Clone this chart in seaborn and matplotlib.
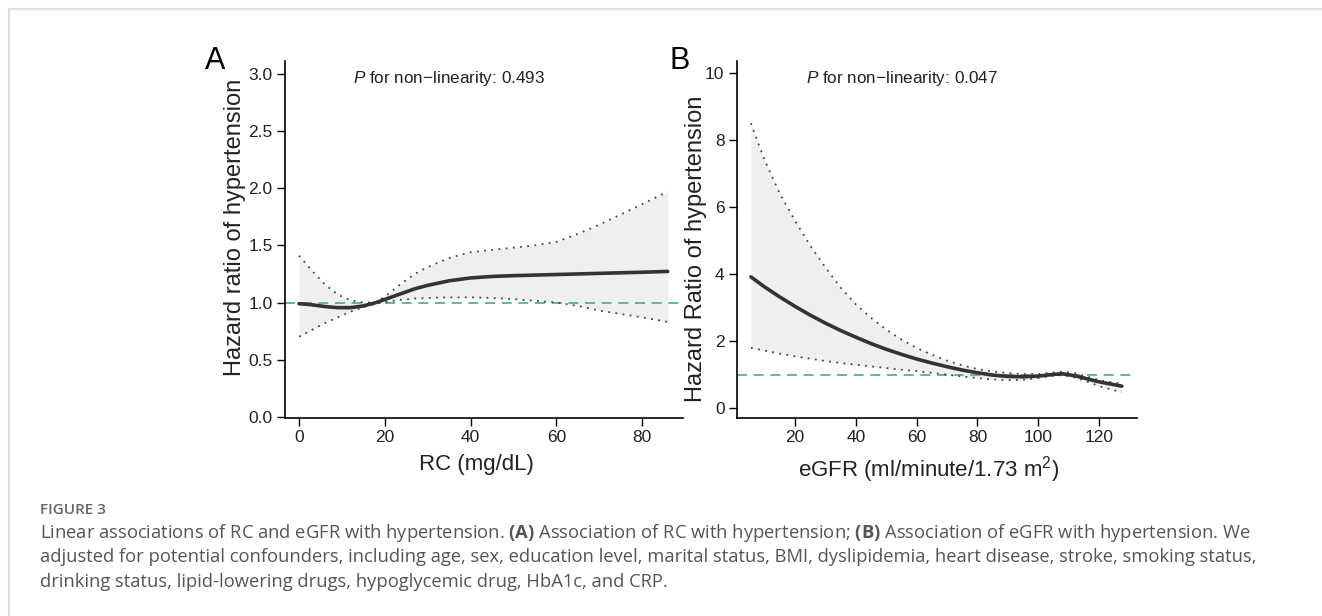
import matplotlib
matplotlib.use("Agg")
import matplotlib.pyplot as plt
import matplotlib.lines as mlines
import seaborn as sns
import pandas as pd

# panel A: RC (mg/dL)
rc_x = [0, 3, 6, 9, 12, 15, 18, 21, 24, 27, 30, 35, 40, 45, 50, 55, 60, 65, 70, 75, 80, 86]
rc_hr = [0.99, 0.98, 0.965, 0.955, 0.955, 0.97, 1.0, 1.04, 1.08, 1.12, 1.15, 1.19, 1.215,
         1.228, 1.235, 1.24, 1.245, 1.25, 1.255, 1.26, 1.265, 1.272]
rc_upper = [1.41, 1.28, 1.16, 1.07, 1.02, 1.0, 1.0, 1.08, 1.17, 1.25, 1.31, 1.39, 1.44,
            1.46, 1.48, 1.5, 1.53, 1.6, 1.68, 1.77, 1.86, 1.97]
rc_lower = [0.70, 0.76, 0.82, 0.87, 0.92, 0.96, 0.99, 1.01, 1.025, 1.035, 1.04, 1.045, 1.045,
            1.04, 1.03, 1.015, 1.0, 0.97, 0.93, 0.9, 0.87, 0.83]

# panel B: eGFR
egfr_x = [5.5, 10, 15, 20, 25, 30, 35, 40, 45, 50, 55, 60, 65, 70, 75, 80, 85, 90, 95, 100,
          105, 108, 112, 116, 120, 124, 127.5]
egfr_hr = [3.92, 3.62, 3.32, 3.04, 2.78, 2.54, 2.32, 2.12, 1.93, 1.76, 1.61, 1.47, 1.35, 1.24,
           1.14, 1.06, 0.99, 0.95, 0.94, 0.96, 1.01, 1.03, 0.97, 0.88, 0.79, 0.72, 0.66]
egfr_upper = [8.5, 7.4, 6.4, 5.6, 4.85, 4.2, 3.6, 3.1, 2.7, 2.35, 2.05, 1.8, 1.6, 1.42, 1.28,
              1.17, 1.1, 1.05, 1.02, 1.02, 1.07, 1.09, 1.05, 0.95, 0.84, 0.78, 0.73]
egfr_lower = [1.8, 1.72, 1.63, 1.55, 1.48, 1.41, 1.35, 1.3, 1.25, 1.2, 1.15, 1.11, 1.06, 1.0,
              0.95, 0.9, 0.86, 0.84, 0.85, 0.9, 0.97, 0.99, 0.92, 0.8, 0.66, 0.56, 0.48]

rc_ticks = [0, 20, 40, 60, 80]
rc_yticks = [0.0, 0.5, 1.0, 1.5, 2.0, 2.5, 3.0]
egfr_ticks = [20, 40, 60, 80, 100, 120]
egfr_yticks = [0, 2, 4, 6, 8, 10]

sns.set_theme(style="ticks")
plt.rcParams['font.family'] = ['Liberation Sans', 'DejaVu Sans']
plt.rcParams['mathtext.fontset'] = 'custom'
plt.rcParams['mathtext.bf'] = 'Open Sans:bold'
plt.rcParams['mathtext.it'] = 'Liberation Sans:italic'
plt.rcParams['mathtext.rm'] = 'Liberation Sans'

fig = plt.figure(figsize=(13.22, 6.16), dpi=100)
W, H = 1322, 616


def px_axes(left, top, right, bottom):
    return fig.add_axes([left / W, 1 - bottom / H, (right - left) / W, (bottom - top) / H])


def draw_panel(ax, x, hr, lo, up):
    df = pd.DataFrame({"x": x, "hr": hr, "lo": lo, "up": up})
    ax.fill_between(df["x"], df["lo"], df["up"], color="#efefef", lw=0, zorder=1)
    sns.lineplot(data=df, x="x", y="up", ax=ax, color="#444444", lw=1.3,
                 linestyle=(0, (1, 3)), zorder=3)
    sns.lineplot(data=df, x="x", y="lo", ax=ax, color="#444444", lw=1.3,
                 linestyle=(0, (1, 3)), zorder=3)
    ax.axhline(1, color="#3fa7a3", lw=1.2, linestyle=(0, (6, 4)), zorder=2)
    sns.lineplot(data=df, x="x", y="hr", ax=ax, color="#333333", lw=2.6, zorder=4)
    sns.despine(ax=ax)
    for s in ["left", "bottom"]:
        ax.spines[s].set_linewidth(1.2)
        ax.spines[s].set_color("black")
    ax.tick_params(axis="both", length=6, width=1, color="black", labelsize=12.5,
                   labelcolor="#222222", pad=3)


axA = px_axes(285, 61, 683, 418)
draw_panel(axA, rc_x, rc_hr, rc_lower, rc_upper)
axA.set_xlim(-3.27, 89.56)
axA.set_ylim(-0.011, 3.114)
axA.set_xticks(rc_ticks)
axA.set_yticks(rc_yticks)
axA.set_yticklabels([f"{v:.1f}" for v in rc_yticks])
axA.set_xlabel("RC (mg/dL)", fontsize=16, color="#222222")
axA.set_ylabel("Hazard ratio of hypertension", fontsize=17, color="#222222")
axA.yaxis.set_label_coords(-0.098, 0.534)
axA.xaxis.set_label_coords(0.48, -0.1)
fig.text(353 / W, 1 - 78 / H, r"$\it{P}$ for non$-$linearity: 0.493", fontsize=12.3,
         va="center", ha="left", color="#222222")
fig.text(215 / W, 1 - 61 / H, "A", fontsize=22, ha="center", va="center", color="black")

axB = px_axes(737, 61, 1137, 418)
draw_panel(axB, egfr_x, egfr_hr, egfr_lower, egfr_upper)
axB.set_xlim(0.92, 132.5)
axB.set_ylim(-0.29, 10.36)
axB.set_xticks(egfr_ticks)
axB.set_yticks(egfr_yticks)
axB.set_xlabel("eGFR (ml/minute/1.73 m$^2$)", fontsize=16, color="#222222")
axB.set_ylabel("Hazard Ratio of hypertension", fontsize=17, color="#222222")
axB.yaxis.set_label_coords(-0.074, 0.473)
axB.xaxis.set_label_coords(0.48, -0.1)
fig.text(806 / W, 1 - 78 / H, r"$\it{P}$ for non$-$linearity: 0.047", fontsize=12.3,
         va="center", ha="left", color="#222222")
fig.text(680 / W, 1 - 61 / H, "B", fontsize=22, ha="center", va="center", color="black")

# page frame lines
fig.add_artist(mlines.Line2D([9 / W, 1], [1 - 9 / H, 1 - 9 / H], color="#dddddd", lw=1.5))
fig.add_artist(mlines.Line2D([9 / W, 9 / W], [0, 1 - 9 / H], color="#dddddd", lw=1.5))

# caption
cap_font = ['Open Sans', 'DejaVu Sans']
fig.text(40 / W, 1 - 510 / H, "FIGURE 3", fontsize=11, fontweight="semibold",
         color="#666666", va="center", family=cap_font)
line1 = (r"Linear associations of RC and eGFR with hypertension. $\bf{(A)}$ Association of RC "
         r"with hypertension; $\bf{(B)}$ Association of eGFR with hypertension. We")
lines = [
    line1,
    "adjusted for potential confounders, including age, sex, education level, marital status, "
    "BMI, dyslipidemia, heart disease, stroke, smoking status,",
    "drinking status, lipid-lowering drugs, hypoglycemic drug, HbA1c, and CRP.",
]
for i, t in enumerate(lines):
    fig.text(40 / W, 1 - (533 + 24.5 * i) / H, t, fontsize=13.2, color="#555555",
             va="center", ha="left", family=cap_font)

fig.savefig("out.png", dpi=100)
